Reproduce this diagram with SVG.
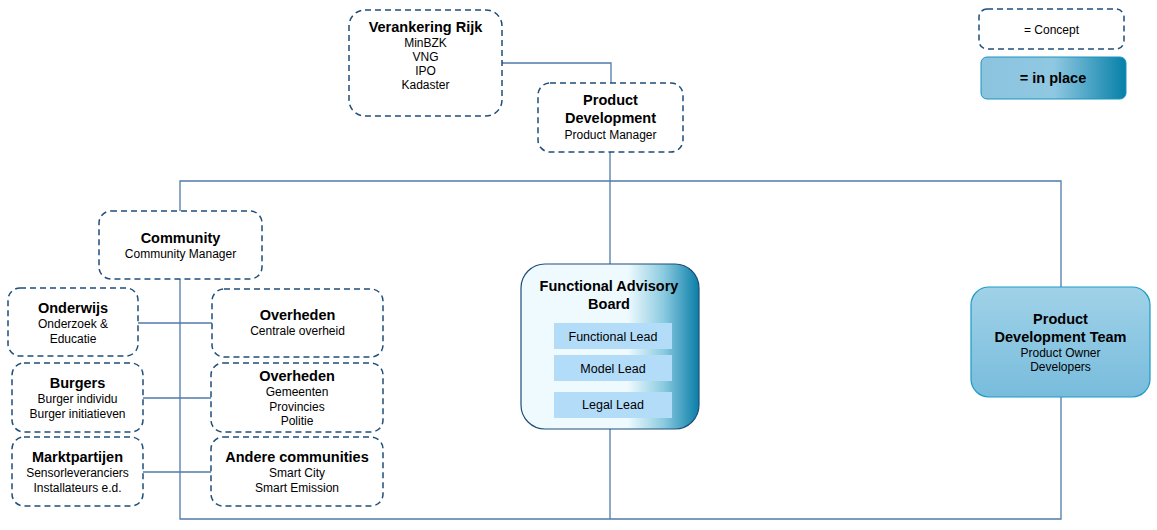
<svg xmlns="http://www.w3.org/2000/svg" width="1157" height="530" viewBox="0 0 1157 530">
<style>
.dash{fill:#fff;stroke:#1f4e79;stroke-width:1.5;stroke-dasharray:6 4}
.t{font-family:"Liberation Sans",Arial,sans-serif;font-size:14.5px;font-weight:bold;fill:#000;text-anchor:middle}
.s{font-family:"Liberation Sans",Arial,sans-serif;font-size:12px;fill:#000;text-anchor:middle}
.l{font-family:"Liberation Sans",Arial,sans-serif;font-size:12.5px;fill:#000;text-anchor:middle}
.c{fill:none;stroke:#4f7bab;stroke-width:1.3}
.lead{fill:#b3dcf9}
</style>
<defs>
<linearGradient id="gPlace" x1="0" y1="0" x2="1" y2="0">
<stop offset="0" stop-color="#8cc4e0"/>
<stop offset="0.5" stop-color="#90c8e2"/>
<stop offset="1" stop-color="#0680a8"/>
</linearGradient>
<linearGradient id="gFab" x1="0" y1="0" x2="1" y2="0">
<stop offset="0" stop-color="#eefafe"/>
<stop offset="0.6" stop-color="#eefafe"/>
<stop offset="0.8" stop-color="#8ccbe0"/>
<stop offset="1" stop-color="#0a7ea8"/>
</linearGradient>
<linearGradient id="gPdt" x1="0" y1="0" x2="0" y2="1">
<stop offset="0" stop-color="#a0d2e8"/>
<stop offset="1" stop-color="#78bcdc"/>
</linearGradient>
</defs>
<g id="connectors">
<polyline class="c" points="502,63 611,63 611,83"/>
<line class="c" x1="610" y1="152" x2="610" y2="265"/>
<polyline class="c" points="180,212 180,181 1061,181 1061,288"/>
<polyline class="c" points="180,279 180,519 1061,519 1061,397"/>
<line class="c" x1="610" y1="429" x2="610" y2="519"/>
<line class="c" x1="138" y1="323" x2="212" y2="323"/>
<line class="c" x1="143" y1="398" x2="211" y2="398"/>
<line class="c" x1="143" y1="472" x2="211" y2="472"/>
</g>
<g id="verankering">
<rect class="dash" x="349" y="10" width="153" height="106" rx="16"/>
<text class="t" x="425.5" y="32">Verankering Rijk</text>
<text class="s" x="425.5" y="47">MinBZK</text>
<text class="s" x="425.5" y="61">VNG</text>
<text class="s" x="425.5" y="75">IPO</text>
<text class="s" x="425.5" y="89">Kadaster</text>
</g>
<g id="product-development">
<rect class="dash" x="538" y="83" width="145" height="69" rx="12"/>
<text class="t" x="610.5" y="105">Product</text>
<text class="t" x="610.5" y="123">Development</text>
<text class="s" x="610.5" y="139">Product Manager</text>
</g>
<g id="legend-concept">
<rect class="dash" x="979" y="9" width="145" height="40" rx="8"/>
<text class="s" x="1051.5" y="34">= Concept</text>
</g>
<g id="legend-inplace">
<rect x="981" y="57" width="145" height="42" rx="6" fill="url(#gPlace)" stroke="#1a94bf" stroke-width="1"/>
<text class="t" x="1053" y="83">= in place</text>
</g>
<g id="community">
<rect class="dash" x="99" y="211" width="163" height="68" rx="12"/>
<text class="t" x="180.5" y="243">Community</text>
<text class="s" x="180.5" y="258">Community Manager</text>
</g>
<g id="onderwijs">
<rect class="dash" x="8" y="288" width="130" height="68" rx="12"/>
<text class="t" x="73" y="313">Onderwijs</text>
<text class="s" x="73" y="328">Onderzoek &amp;</text>
<text class="s" x="73" y="343">Educatie</text>
</g>
<g id="overheden-centraal">
<rect class="dash" x="212" y="289" width="171" height="68" rx="12"/>
<text class="t" x="297.5" y="320">Overheden</text>
<text class="s" x="297.5" y="335">Centrale overheid</text>
</g>
<g id="burgers">
<rect class="dash" x="12" y="363" width="131" height="69" rx="12"/>
<text class="t" x="77.5" y="388">Burgers</text>
<text class="s" x="77.5" y="403">Burger individu</text>
<text class="s" x="77.5" y="418">Burger initiatieven</text>
</g>
<g id="overheden-lokaal">
<rect class="dash" x="211" y="363" width="172" height="69" rx="12"/>
<text class="t" x="297" y="381">Overheden</text>
<text class="s" x="297" y="396">Gemeenten</text>
<text class="s" x="297" y="411">Provincies</text>
<text class="s" x="297" y="425">Politie</text>
</g>
<g id="marktpartijen">
<rect class="dash" x="12" y="437" width="131" height="69" rx="12"/>
<text class="t" x="77.5" y="462">Marktpartijen</text>
<text class="s" x="77.5" y="477">Sensorleveranciers</text>
<text class="s" x="77.5" y="492">Installateurs e.d.</text>
</g>
<g id="andere-communities">
<rect class="dash" x="211" y="437" width="172" height="69" rx="12"/>
<text class="t" x="297" y="462">Andere communities</text>
<text class="s" x="297" y="477">Smart City</text>
<text class="s" x="297" y="492">Smart Emission</text>
</g>
<g id="functional-advisory-board">
<rect x="521" y="264" width="178" height="165" rx="24" fill="url(#gFab)" stroke="#1f4e79" stroke-width="1.2"/>
<text class="t" x="609" y="291">Functional Advisory</text>
<text class="t" x="609" y="309">Board</text>
<rect class="lead" x="554" y="323" width="118" height="26"/>
<text class="l" x="613" y="341">Functional Lead</text>
<rect class="lead" x="554" y="355" width="118" height="26"/>
<text class="l" x="613" y="373">Model Lead</text>
<rect class="lead" x="554" y="392" width="118" height="26"/>
<text class="l" x="613" y="409">Legal Lead</text>
</g>
<g id="product-development-team">
<rect x="971" y="287" width="179" height="110" rx="18" fill="url(#gPdt)" stroke="#1a9cc4" stroke-width="1.2"/>
<text class="t" x="1060.5" y="324">Product</text>
<text class="t" x="1060.5" y="342">Development Team</text>
<text class="s" x="1060.5" y="357">Product Owner</text>
<text class="s" x="1060.5" y="371">Developers</text>
</g>
</svg>
